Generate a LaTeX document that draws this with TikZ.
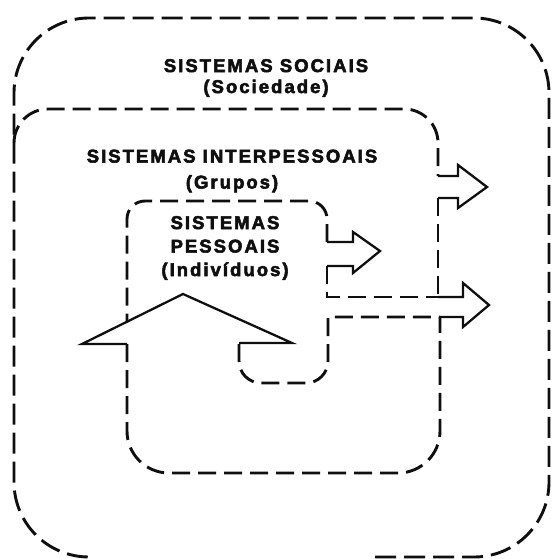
\documentclass[tikz,border=0pt]{standalone}
\usepackage{fontspec}
\newfontfamily\sysfont[LetterSpace=11,BoldFeatures={FakeBold=3}]{Liberation Sans}
\usepackage{tikz}
\usetikzlibrary{positioning}
\definecolor{inkblack}{RGB}{15,15,15}
\newcommand{\syslabel}[1]{{\sysfont\bfseries #1}}

\begin{document}
\begin{tikzpicture}[x=1pt,y=-1pt,
    sysline/.style={inkblack, line width=2.9pt, dash pattern=on 18pt off 8pt},
    outerline/.style={sysline, dash pattern=on 21pt off 8pt},
    flowline/.style={inkblack, line width=2.3pt, line join=miter},
    systext/.style={align=center, text=inkblack, inner sep=0pt}]
    \useasboundingbox (0,0) rectangle (551,559);

    % --- Sistemas sociais ---
    \draw[outerline, rounded corners=75pt] (375,557) -- (549,557) -- (549,18) -- (14,18) -- (14,557) -- (95,557);
    \node[systext, font=\fontsize{18.5}{21}\selectfont] (social) at (266,78)
        {\syslabel{SISTEMAS SOCIAIS}\\\syslabel{(Sociedade)}};

    % --- Sistemas interpessoais ---
    \draw[sysline, rounded corners=34pt] (14,143) -- (14,109) -- (438,109) -- (438,176);
    \draw[flowline] (438,176) -- (458,176) -- (458,165) -- (487,187) -- (458,208) -- (458,198) -- (438,198);
    \draw[sysline] (438,198) -- (438,297);
    \node[systext, font=\fontsize{18.5}{26}\selectfont] (grupo) at (232,171)
        {\syslabel{SISTEMAS INTERPESSOAIS}\\\syslabel{(Grupos)}};

    % --- Sistemas pessoais ---
    \draw[sysline, rounded corners=18pt] (327,242) -- (327,201) -- (127,201) -- (127,322);
    \draw[flowline] (327,242) -- (353,242) -- (353,232) -- (380,251) -- (353,273) -- (353,266) -- (327,266);
    \draw[sysline] (327,266) -- (327,297) -- (438,297);
    \draw[flowline] (438,297) -- (463,297) -- (463,283) -- (489,305) -- (463,327) -- (463,317) -- (440,317);
    \node[systext, font=\fontsize{18.5}{23.5}\selectfont] (pessoal) at (225,248)
        {\syslabel{SISTEMAS}\\\syslabel{PESSOAIS}\\\syslabel{(Indivíduos)}};

    % --- Retorno (seta de baixo) ---
    \draw[flowline] (127,344) -- (82,344) -- (183,294) -- (292,343) -- (239,343);
    \draw[sysline, rounded corners=42pt] (127,344) -- (127,473) -- (440,473) -- (440,317);
    \draw[sysline, rounded corners=22pt] (239,344) -- (239,383) -- (328,383) [sharp corners] -- (328,317) -- (440,317);
\end{tikzpicture}
\end{document}
